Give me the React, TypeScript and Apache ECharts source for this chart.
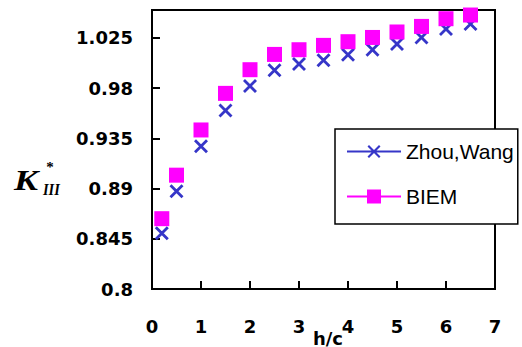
import React, { useEffect, useRef } from "react";
import * as echarts from "echarts";

const hc = [0.2, 0.5, 1, 1.5, 2, 2.5, 3, 3.5, 4, 4.5, 5, 5.5, 6, 6.5];
const zhouWang = [0.85, 0.8875, 0.928, 0.96, 0.982, 0.996, 1.0016, 1.005, 1.0099, 1.0144, 1.0195, 1.0254, 1.033, 1.0374];
const biem = [0.863, 0.902, 0.9425, 0.9753, 0.9965, 1.0102, 1.0144, 1.0183, 1.0216, 1.0254, 1.0303, 1.0353, 1.0422, 1.0455];
const seriesNames = ["Zhou,Wang", "BIEM"];
const xAxisName = "h/c";

const X_SYMBOL = "path://M0 2 L2 0 L14 12 L12 14 Z M0 12 L12 0 L14 2 L2 14 Z";
const ICON_ZHOU =
  "path://M0 7 L54 7 L54 9 L0 9 Z M20.5 3 L22 1.5 L33.5 13 L32 14.5 Z M20.5 13 L32 1.5 L33.5 3 L22 14.5 Z";
const ICON_BIEM = "path://M0 7 L54 7 L54 9 L0 9 Z M20 1 L34 1 L34 15 L20 15 Z";

export default function App() {
  const ref = useRef<HTMLDivElement>(null);
  useEffect(() => {
    if (!ref.current) return;
    const chart = echarts.init(ref.current, null, { renderer: "svg" });
    const pairs = (ys: number[]) => hc.map((x, i) => [x, ys[i]]);
    chart.setOption({
      animation: false,
      backgroundColor: "#ffffff",
      grid: {
        left: 152,
        right: 27,
        top: 10,
        bottom: 58,
        show: true,
        borderColor: "#000",
        borderWidth: 2,
        outerBoundsMode: "none",
      },
      xAxis: {
        type: "value",
        min: 0,
        max: 7,
        interval: 1,
        axisLine: { show: true, lineStyle: { color: "#000", width: 2 } },
        axisTick: { show: true, inside: true, length: 8, lineStyle: { color: "#000", width: 2 } },
        axisLabel: {
          margin: 28,
          color: "#000",
          fontFamily: "DejaVu Sans",
          fontWeight: "bold",
          fontSize: 18,
        },
        splitLine: { show: false },
      },
      yAxis: {
        type: "value",
        min: 0.8,
        max: 1.05,
        interval: 0.045,
        axisLine: { show: true, lineStyle: { color: "#000", width: 2 } },
        axisTick: { show: true, inside: true, length: 8, lineStyle: { color: "#000", width: 2 } },
        axisLabel: {
          margin: 19,
          showMaxLabel: false,
          color: "#000",
          fontFamily: "DejaVu Sans",
          fontWeight: "bold",
          fontSize: 18,
        },
        splitLine: { show: false },
      },
      legend: {
        orient: "vertical",
        left: 335,
        top: 129,
        padding: [12, 4, 17, 12],
        itemWidth: 54,
        itemHeight: 16,
        itemGap: 24,
        borderColor: "#000",
        borderWidth: 1.5,
        backgroundColor: "#fff",
        textStyle: { fontFamily: "Liberation Sans", fontSize: 21, color: "#000" },
        data: [
          { name: seriesNames[0], icon: ICON_ZHOU },
          { name: seriesNames[1], icon: ICON_BIEM },
        ],
      },
      series: [
        {
          name: seriesNames[0],
          type: "scatter",
          data: pairs(zhouWang),
          symbol: X_SYMBOL,
          symbolSize: 14,
          itemStyle: { color: "#3636c8", opacity: 1 },
          z: 2,
        },
        {
          name: seriesNames[1],
          type: "scatter",
          data: pairs(biem),
          symbol: "rect",
          symbolSize: 15,
          itemStyle: { color: "#ff00ff", opacity: 1 },
          z: 3,
        },
      ],
      graphic: [
        {
          type: "text",
          x: 14,
          y: 180,
          scaleX: 1.2,
          style: {
            text: "K",
            font: 'italic bold 30px "Liberation Serif"',
            fill: "#000",
            align: "left",
            verticalAlign: "middle",
          },
        },
        {
          type: "text",
          x: 43,
          y: 189,
          scaleX: 0.85,
          style: {
            text: "III",
            font: 'italic bold 17px "Liberation Serif"',
            fill: "#000",
            align: "left",
            verticalAlign: "middle",
          },
        },
        {
          type: "text",
          x: 50,
          y: 167,
          style: {
            text: "*",
            font: 'bold 15px "Liberation Serif"',
            fill: "#000",
            align: "center",
            verticalAlign: "middle",
          },
        },
        {
          type: "text",
          x: 328,
          y: 338,
          style: {
            text: xAxisName,
            font: 'bold 18px "DejaVu Sans"',
            fill: "#000",
            align: "center",
            verticalAlign: "middle",
          },
        },
      ],
    });
    return () => chart.dispose();
  }, []);
  return (
    <div
      ref={ref}
      style={{ position: "fixed", left: 0, top: 0, width: 522, height: 347 }}
    />
  );
}
